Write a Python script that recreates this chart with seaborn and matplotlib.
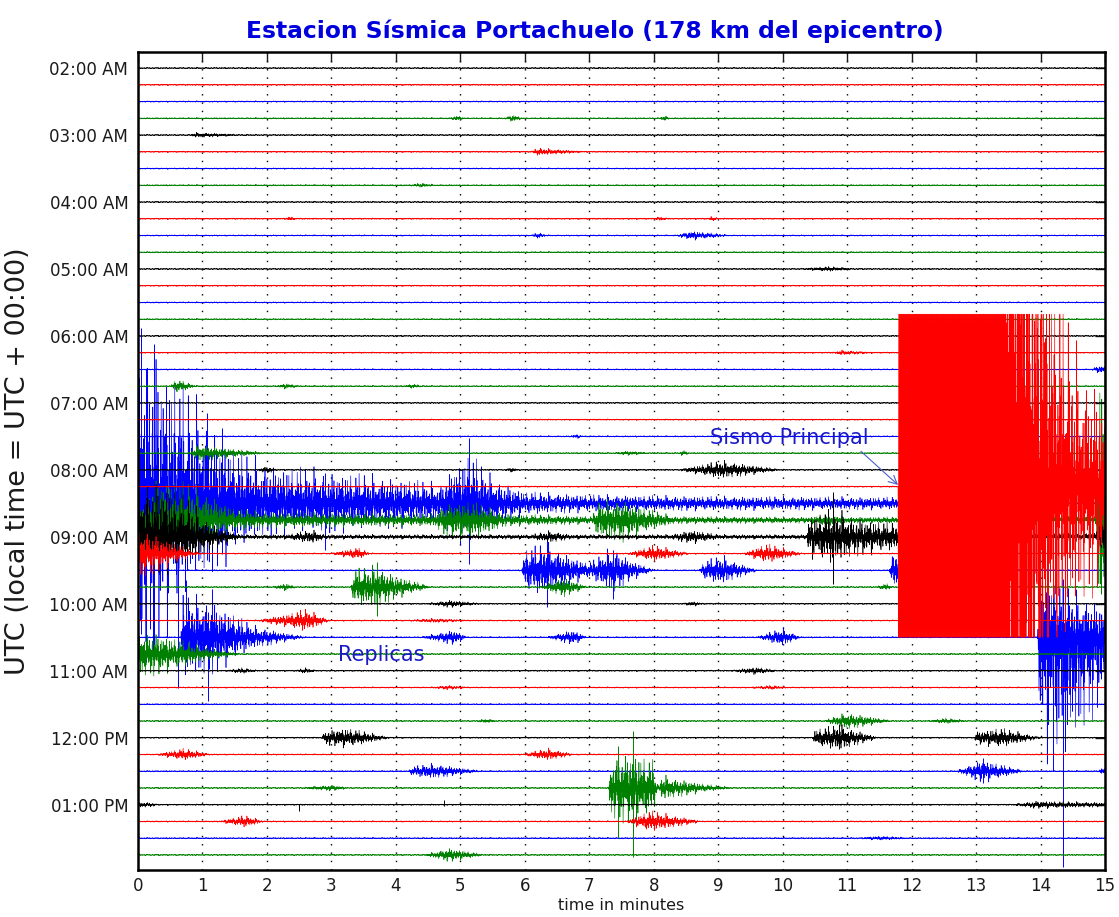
import numpy as np
import seaborn as sns
import matplotlib
matplotlib.use("Agg")
from matplotlib import pyplot as plt

sns.set_theme(style="white")
plt.rcParams["font.family"] = ["DejaVu Sans"]

# helicorder: 48 rows of 15 minutes, 02:00 -> 13:45 UTC
n_rows = 48
row_colors = ["black", "red", "blue", "green"]
color_zorder = {"blue": 2.0, "green": 2.1, "black": 2.2, "red": 2.3}
hour_rows = list(range(0, 48, 4))
hour_labels = ["02:00 AM", "03:00 AM", "04:00 AM", "05:00 AM", "06:00 AM", "07:00 AM",
               "08:00 AM", "09:00 AM", "10:00 AM", "11:00 AM", "12:00 PM", "01:00 PM"]
minute_ticks = list(range(16))
noise_level = 0.05

# envelopes: row, times (min), up amplitude, down amplitude (row units)
events = [
    (3, [4.85, 4.95, 5.05], [0, .15, 0], None),
    (3, [5.7, 5.82, 5.95], [0, .2, 0], None),
    (3, [8.1, 8.15, 8.25], [0, .15, 0], None),
    (4, [0.8, 0.9, 1.6], [0, .12, 0], None),
    (5, [6.1, 6.2, 6.9], [0, .2, 0], None),
    (7, [4.2, 4.4, 4.6], [0, .1, 0], None),
    (9, [2.3, 2.35, 2.45], [0, .12, 0], None),
    (9, [8.0, 8.1, 8.2], [0, .1, 0], None),
    (9, [8.85, 8.9, 9.0], [0, .12, 0], None),
    (10, [6.1, 6.2, 6.35], [0, .15, 0], None),
    (10, [8.35, 8.6, 9.15], [0, .25, 0], None),
    (12, [10.3, 10.7, 11.1], [0, .12, 0], None),
    (17, [10.8, 10.9, 11.4], [0, .12, 0], None),
    (18, [14.8, 14.9, 15.0], [0, .2, .2], None),
    (19, [0.5, 0.6, 0.9], [0, .4, 0], None),
    (19, [2.15, 2.3, 2.5], [0, .15, 0], None),
    (19, [4.15, 4.25, 4.4], [0, .12, 0], None),
    (22, [6.7, 6.8, 6.9], [0, .1, 0], None),
    (23, [0.8, 0.95, 1.2, 1.95], [0, .55, .35, 0], None),
    (23, [7.4, 7.6, 7.9], [0, .1, 0], None),
    (23, [8.4, 8.45, 8.55], [0, .15, 0], None),
    (24, [1.85, 2.0, 2.15], [0, .2, 0], None),
    (24, [5.7, 5.8, 5.9], [0, .12, 0], None),
    (24, [8.4, 9.05, 9.95], [0, .55, 0], None),
    # main shock (clipped)
    (25, [11.79, 11.8, 13.0, 13.5, 13.9, 14.3, 14.6, 15.0],
     [0, 300, 300, 80, 25, 13, 8, 6], [0, 300, 300, 80, 22, 11, 8, 6]),
    (26, [0, 0.3, 0.6, 1.0, 1.3, 1.6, 2.0, 3.0, 4.0, 4.7, 4.9, 5.15, 5.5, 6.0, 7.0, 9.0, 11.8, 11.85],
     [11, 10, 8, 6, 4, 3.2, 2.5, 2.0, 1.6, 1.2, 2.4, 3.2, 1.6, 0.7, 0.5, 0.4, 0.35, 0],
     [10, 9, 7, 4.5, 4, 2.8, 2.0, 1.8, 1.5, 1.2, 2.2, 2.8, 1.4, 0.7, 0.5, 0.4, 0.35, 0]),
    (27, [0, 0.3, 0.8, 1.2, 1.5, 2.0, 4.0, 4.6, 4.75, 5.15, 5.7, 7.05, 7.15, 7.5, 7.9, 8.3,
          10.4, 10.7, 11.0, 14.85, 14.92, 15.0],
     [1.2, 2.8, 2.3, 1.4, 0.7, 0.45, 0.35, 0.35, 1.0, 1.2, 0.35, 0.2, 1.1, 1.3, 0.7, 0.2,
      0.15, 0.35, 0.15, 0.2, 12, 12],
     [1.2, 1.7, 1.4, 0.9, 0.7, 0.45, 0.35, 0.35, 1.0, 1.3, 0.35, 0.2, 1.2, 1.4, 0.7, 0.2,
      0.15, 0.35, 0.15, 0.2, 8, 8]),
    (28, [0, 0.4, 0.8, 1.1, 1.4, 1.6, 2.3, 2.7, 2.9, 6.1, 6.4, 6.7, 8.25, 8.6, 9.0,
          10.37, 10.4, 10.78, 11.1, 11.8, 11.85, 14.85, 15.0],
     [4.0, 3.5, 2.3, 0.9, 0.35, 0.1, 0.1, 0.4, 0.1, 0.1, 0.35, 0.1, 0.1, 0.4, 0.1,
      0.1, 1.2, 1.8, 1.2, 0.8, 0.1, 0.2, 1.7],
     [2.3, 2.3, 1.7, 0.9, 0.35, 0.1, 0.1, 0.4, 0.1, 0.1, 0.35, 0.1, 0.1, 0.4, 0.1,
      0.1, 1.2, 1.8, 1.2, 0.8, 0.1, 0.2, 1.7]),
    (29, [0, 0.3, 0.85, 1.0], [1.8, 1.1, 0.1, 0], None),
    (29, [3.0, 3.4, 3.6], [0, .35, 0], None),
    (29, [7.6, 8.0, 8.55], [0, .5, 0], None),
    (29, [9.4, 9.75, 10.3], [0, .6, 0], None),
    (30, [5.95, 6.0, 6.34, 6.6, 6.95, 7.05, 7.37, 7.6, 8.0], [0, 1.3, 1.7, 1.1, 0.45, 0.55, 1.5, 0.7, 0], None),
    (30, [8.7, 8.8, 9.07, 9.3, 9.6], [0, .6, .9, .45, 0], None),
    (30, [11.65, 11.72, 11.8], [0, 1.2, 1.1], None),
    (31, [2.1, 2.3, 2.45], [0, .2, 0], None),
    (31, [3.3, 3.35, 3.7, 4.0, 4.53], [0, 1.1, 1.3, 0.7, 0], None),
    (31, [6.24, 6.6, 6.96], [0, .6, 0], None),
    (31, [11.45, 11.6, 11.7], [0, .2, 0], None),
    (32, [4.5, 4.85, 5.3], [0, .2, 0], None),
    (32, [8.45, 8.6, 8.77], [0, .12, 0], None),
    (33, [1.85, 2.3, 2.6, 2.97], [0, .35, .7, 0], None),
    (33, [4.2, 4.6, 5.15], [0, .1, 0], None),
    (34, [0.66, 0.7, 1.0, 1.2, 1.5, 1.8, 2.2, 2.6], [0, 2.6, 2.5, 2.2, 1.4, 0.7, 0.3, 0], None),
    (34, [4.4, 4.9, 4.95, 5.1], [0, .45, .35, 0], None),
    (34, [6.35, 6.75, 6.95], [0, .45, 0], None),
    (34, [9.6, 10.0, 10.27], [0, .55, 0], None),
    (34, [13.95, 14.0, 14.3, 14.55, 14.9, 15.0], [0, 3.4, 3.6, 2.8, 2.2, 2.2], [0, 7, 8.5, 7, 4.5, 4.5]),
    (35, [0, 0.3, 0.7, 1.0, 1.3, 1.6], [1.5, 1.3, 0.8, 0.45, 0.2, 0], None),
    (36, [1.38, 1.6, 1.85], [0, .15, 0], None),
    (36, [2.45, 2.6, 2.75], [0, .15, 0], None),
    (36, [9.2, 9.6, 9.9], [0, .2, 0], None),
    (37, [4.55, 4.8, 5.15], [0, .1, 0], None),
    (37, [9.5, 9.8, 10.1], [0, .1, 0], None),
    (39, [5.25, 5.4, 5.55], [0, .1, 0], None),
    (39, [10.65, 11.0, 11.67], [0, .5, 0], None),
    (39, [12.3, 12.5, 12.85], [0, .15, 0], None),
    (40, [2.85, 2.9, 3.24, 3.9], [0, .4, .6, 0], None),
    (40, [10.47, 10.5, 10.88, 11.47], [0, .5, .8, 0], None),
    (40, [12.98, 13.0, 13.37, 14.0], [0, .35, .6, 0], None),
    (41, [0.3, 0.7, 1.12], [0, .35, 0], None),
    (41, [5.97, 6.36, 6.75], [0, .35, 0], None),
    (42, [4.2, 4.25, 4.57, 5.3], [0, .25, .45, 0], None),
    (42, [12.7, 13.1, 13.73], [0, .7, 0], None),
    (42, [14.9, 14.95, 15.0], [0, .2, .2], None),
    (43, [2.55, 3.0, 3.25], [0, .15, 0], None),
    (43, [7.3, 7.33, 7.68, 8.0, 8.05, 8.1, 8.12, 8.3, 8.8, 9.2],
     [0, 2.0, 2.3, 1.7, 0.2, 0.2, 0.8, 0.6, 0.2, 0], None),
    (44, [0, 0.2, 0.3], [.15, .1, 0], None),
    (44, [13.57, 13.94, 14.97, 15.0], [0, .2, .1, .1], None),
    (45, [1.27, 1.66, 1.95], [0, .35, 0], None),
    (45, [7.58, 7.94, 8.72], [0, .65, 0], None),
    (46, [11.2, 11.5, 11.93], [0, .1, 0], None),
    (47, [4.45, 4.84, 5.35], [0, .4, 0], None),
]

# single tall swings: row, time, up, down
spike_rows = [26, 26, 26, 26, 26, 26, 26, 26, 28, 30, 30, 31, 34, 34, 34, 34, 34, 43, 43, 40, 42, 44, 44]
spike_times = [0.05, 0.12, 0.25, 0.62, 1.07, 1.3, 2.9, 5.14, 10.78, 6.34, 7.37, 3.7, 0.75, 1.08, 1.15,
               14.2, 14.35, 7.45, 7.68, 10.88, 13.1, 2.5, 4.75]
spike_up = [10.5, 8.0, 9.5, 4.0, 5.4, 4.5, 1.8, 3.9, 2.7, 1.9, 1.2, 1.5, 3.4, 1.5, 2.9,
            3.6, 3.5, 2.5, 3.4, 0.85, 0.8, 0.05, 0.3]
spike_down = [7.8, 9.5, 9.0, 11.0, 3.4, 3.0, 2.8, 3.6, 2.8, 2.2, 1.7, 1.7, 1.5, 3.8, 1.0,
              8.0, 13.7, 3.0, 4.1, 0.7, 0.7, 0.35, 0.1]

# drawing grid for the wiggle (rendering only)
t = np.arange(0, 15.0001, 0.005)
idx = np.arange(t.size)
pat_a = np.array([1.0, 0.3, 0.6, 0.15, 0.85, 0.45, 0.25, 0.7, 0.5, 0.2, 0.95, 0.35, 0.55])
pat_b = np.array([1.0, 0.6, 0.9, 0.4, 0.8, 0.5, 0.7])
texture = pat_a[idx % 13] * pat_b[idx % 7]
sign = np.where(idx % 2 == 0, 1.0, -1.0)

fig = plt.figure(figsize=(11.19, 9.17), dpi=100)
ax = fig.add_axes([138 / 1119, 1 - 870 / 917, 967 / 1119, 818 / 917])

for row in range(n_rows):
    color = row_colors[row % 4]
    up = np.full(t.size, noise_level)
    down = np.full(t.size, noise_level)
    for r, times, a_up, a_down in events:
        if r != row:
            continue
        up += np.interp(t, times, a_up, left=0, right=0)
        down += np.interp(t, times, a_down if a_down else a_up, left=0, right=0)
    disp = np.where(sign > 0, up, down) * texture * sign
    disp = np.clip(disp, -9.0, 10.3)
    sns.lineplot(x=t, y=row - disp, color=color, lw=0.45, estimator=None, sort=False,
                 ax=ax, zorder=color_zorder[color])

for r, tt, a_up, a_down in zip(spike_rows, spike_times, spike_up, spike_down):
    color = row_colors[r % 4]
    ax.vlines(tt, r - a_up, r + a_down, color=color, lw=0.7, zorder=color_zorder[color])

ax.set_xlim(0, 15)
ax.set_ylim(47.9, -0.96)
ax.set_xticks(minute_ticks)
ax.set_yticks(hour_rows)
ax.set_yticklabels(hour_labels)
ax.grid(axis="x", color="black", linestyle=(0, (1, 5)), lw=1.0)
ax.grid(axis="y", visible=False)
ax.set_axisbelow(True)
ax.tick_params(direction="in", length=7, width=1, top=True, right=True,
               labelsize=12, colors="#1a1a1a")
ax.tick_params(axis="x", pad=5)
ax.tick_params(axis="y", pad=7)
for s in ax.spines.values():
    s.set_color("black")
    s.set_linewidth(1.8)

ax.set_xlabel("time in minutes", fontsize=11.5, color="#1a1a1a", labelpad=2)
ax.set_ylabel("UTC (local time = UTC + 00:00)", fontsize=19.5, color="#1a1a1a")
ax.yaxis.set_label_coords(-0.111, 0.5)

fig.text(595 / 1119, 1 - 31 / 917, "Estacion Sísmica Portachuelo (178 km del epicentro)",
         ha="center", va="center", fontsize=16.8, fontweight="bold", color="#0000dd")

ax.annotate("Sismo Principal", xy=(11.79, 24.9), xytext=(8.87, 22.1), ha="left", va="center",
            fontsize=15, color="#1a1ac8", zorder=5,
            arrowprops=dict(arrowstyle="->", color="#4a5ed0", lw=0.8,
                            relpos=(0.93, 0.0), shrinkA=0, shrinkB=0))
ax.text(3.1, 35.07, "Replicas", ha="left", va="center", fontsize=15, color="#1a1ac8", zorder=5)

fig.savefig("out.png", dpi=100)
